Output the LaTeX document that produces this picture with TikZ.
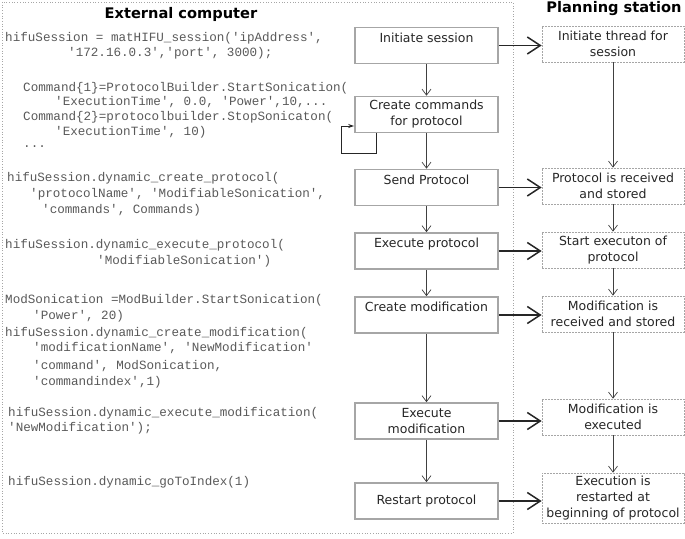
\documentclass[tikz,border=0pt]{standalone}
\usepackage{fontspec}
\setmainfont{DejaVu Sans}
\setmonofont{Liberation Mono}
\usetikzlibrary{arrows.meta}
\begin{document}
\begin{tikzpicture}[x=1pt,y=-1pt,
  lbox/.style={draw=black!35, line width=1.6pt, minimum width=143pt, minimum height=36pt, inner sep=1pt, align=center, font=\fontsize{12.5}{16}\selectfont, text=black!85},
  rbox/.style={draw=black!35, dash pattern=on 2pt off 1pt, line width=0.7pt, minimum width=142pt, minimum height=36pt, inner sep=1pt, align=center, font=\fontsize{12.5}{16}\selectfont, text=black!85},
  code/.style={anchor=west, inner sep=0pt, text height=9pt, text depth=3pt, font=\ttfamily\fontsize{12.6}{15}\selectfont, text=black!65},
  varrow/.style={draw=black!75, line width=0.7pt, -{Straight Barb[length=6pt,width=9pt]}},
  harrow/.style={draw=black!85, line width=1.5pt, -{Straight Barb[length=13pt,width=17pt]}},
  looparrow/.style={draw=black!85, line width=1pt, -{Stealth[length=6pt,width=4pt]}},
  frame/.style={draw=black!35, dotted, line width=0.7pt},
  title/.style={inner sep=0pt, font=\bfseries\fontsize{14.6}{17}\selectfont}]
\useasboundingbox (0,0) rectangle (685,538);
\draw[frame] (2,2) rectangle (513,533);
\node[title] (t1) at (181,14) {External computer};
\node[title] (t2) at (614,9) {Planning station};
% left column
\node[lbox] (l1) at (426.5,45.5) {Initiate session\\~};
\node[lbox] (l2) at (426.5,114.5) {Create commands\\for protocol};
\node[lbox] (l3) at (426.5,187.5) {Send Protocol\\~};
\node[lbox] (l4) at (426.5,251) {Execute protocol\\~};
\node[lbox] (l5) at (426.5,315) {Create modification\\~};
\node[lbox] (l6) at (426.5,421) {Execute\\modification};
\node[lbox] (l7) at (426.5,501) {Restart protocol};
% right column
\node[rbox] (r1) at (613,44) {Initiate thread for\\session};
\node[rbox] (r2) at (613,186) {Protocol is received\\and stored};
\node[rbox] (r3) at (613,250) {Start executon of\\protocol};
\node[rbox] (r4) at (613,314) {Modification is\\received and stored};
\node[rbox] (r5) at (613,417) {Modification is\\executed};
\node[rbox, minimum height=50pt] (r6) at (613,498) {Execution is\\restarted at\\beginning of protocol};
% vertical arrows
\draw[varrow] (l1) -- (l2);
\draw[varrow] (l2) -- (l3);
\draw[varrow] (l3) -- (l4);
\draw[varrow] (l4) -- (l5);
\draw[varrow] (l5) -- (l6);
\draw[varrow] (l6) -- (l7);
\draw[varrow] (r1) -- (r2);
\draw[varrow] (r2) -- (r3);
\draw[varrow] (r3) -- (r4);
\draw[varrow] (r4) -- (r5);
\draw[varrow] (r5) -- (r6);
% horizontal arrows
\draw[harrow] (l1.east) -- (r1.west |- l1.east);
\draw[harrow] (l3.east) -- (r2.west |- l3.east);
\draw[harrow] (l4.east) -- (r3.west |- l4.east);
\draw[harrow] (l5.east) -- (r4.west |- l5.east);
\draw[harrow] (l6.east) -- (r5.west |- l6.east);
\draw[harrow] (l7.east) -- (r6.west |- l7.east);
% self loop
\draw[looparrow] ([xshift=22pt]l2.south west) -- ++(0,20) -- ++(-35,0) |- ([yshift=-11.5pt]l2.west);
% code
\node[code] (c1) at (5,38) {hifuSession = matHIFU\_session('ipAddress',};
\node[code] (c2) at (68,53) {'172.16.0.3','port', 3000);};
\node[code] (c3) at (23,88) {Command\{1\}=ProtocolBuilder.StartSonication(};
\node[code] (c4) at (55,102) {'ExecutionTime', 0.0, 'Power',10,...};
\node[code] (c5) at (23,117) {Command\{2\}=protocolbuilder.StopSonicaton(};
\node[code] (c6) at (55,132) {'ExecutionTime', 10)};
\node[code] (c7) at (23,144) {...};
\node[code] (c8) at (7,178) {hifuSession.dynamic\_create\_protocol(};
\node[code] (c9) at (30,194) {'protocolName', 'ModifiableSonication',};
\node[code] (c10) at (42,210) {'commands', Commands)};
\node[code] (c11) at (5,245) {hifuSession.dynamic\_execute\_protocol(};
\node[code] (c12) at (97,261) {'ModifiableSonication')};
\node[code] (c13) at (5,300) {ModSonication =ModBuilder.StartSonication(};
\node[code] (c14) at (33,316) {'Power', 20)};
\node[code] (c15) at (5,333) {hifuSession.dynamic\_create\_modification(};
\node[code] (c16) at (33,348) {'modificationName', 'NewModification'};
\node[code] (c17) at (33,366) {'command', ModSonication,};
\node[code] (c18) at (33,382) {'commandindex',1)};
\node[code] (c19) at (8,413) {hifuSession.dynamic\_execute\_modification(};
\node[code] (c20) at (8,428) {'NewModification');};
\node[code] (c21) at (8,482) {hifuSession.dynamic\_goToIndex(1)};
\end{tikzpicture}
\end{document}
